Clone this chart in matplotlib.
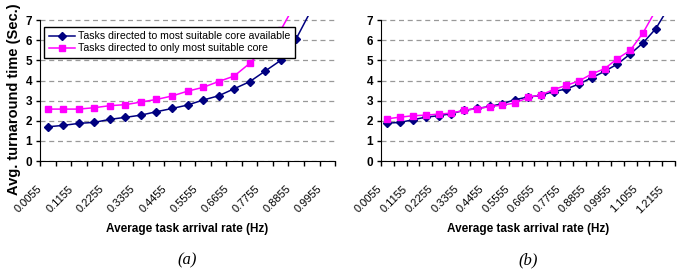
import numpy as np
import matplotlib
matplotlib.use("Agg")
import matplotlib.pyplot as plt
from matplotlib.transforms import ScaledTranslation

plt.rcParams['font.family'] = ['Liberation Sans', 'DejaVu Sans']

# arrival rate categories (Hz)
rates = ["0.0055", "0.0605", "0.1155", "0.1705", "0.2255", "0.2805", "0.3355",
         "0.3905", "0.4455", "0.5005", "0.5555", "0.6105", "0.6655", "0.7205",
         "0.7755", "0.8305", "0.8855", "0.9405", "0.9955", "1.0505", "1.1055",
         "1.1605", "1.2155"]

# (a) turnaround time (sec)
avail_a = [1.70, 1.77, 1.87, 1.92, 2.07, 2.17, 2.28, 2.45, 2.61, 2.78, 3.03,
           3.24, 3.59, 3.94, 4.47, 5.00, 6.08, 7.55, 9.0]
only_a = [2.58, 2.58, 2.58, 2.65, 2.75, 2.80, 2.93, 3.06, 3.23, 3.47, 3.66,
          3.95, 4.22, 4.85, 5.65, 6.50, 7.90, 9.5, 11.0]

# (b) turnaround time (sec)
avail_b = [1.88, 1.92, 2.05, 2.18, 2.25, 2.35, 2.52, 2.61, 2.71, 2.85, 3.05,
           3.18, 3.26, 3.45, 3.58, 3.83, 4.14, 4.46, 4.82, 5.32, 5.87, 6.58, 7.63]
only_b = [2.10, 2.18, 2.25, 2.28, 2.33, 2.38, 2.52, 2.60, 2.70, 2.78, 2.88,
          3.16, 3.28, 3.55, 3.76, 3.98, 4.33, 4.59, 5.09, 5.50, 6.37, 7.5, 8.8]

label_avail = "Tasks directed to most suitable core available"
label_only = "Tasks directed to only most suitable core"

BLUE = "#000080"
PINK = "#FF00FF"

fig = plt.figure(figsize=(6.85, 2.7), dpi=100)
ax_a = fig.add_axes([0.0584, 0.4037, 0.4307, 0.5365])
ax_b = fig.add_axes([0.5562, 0.4037, 0.4292, 0.5365])


def draw(ax, avail, only, caption, show_legend):
    n = len(avail)
    x = np.arange(n)
    ax.plot(x, avail, color=BLUE, marker='D', markersize=4.2, linewidth=1.1,
            label=label_avail, zorder=3)
    ax.plot(x, only, color=PINK, marker='s', markersize=5, linewidth=1.1,
            label=label_only, zorder=3)
    ax.set_xlim(-0.5, n - 0.5)
    ax.set_ylim(0, 7.2)
    for side in ['top', 'right']:
        ax.spines[side].set_visible(False)
    ax.spines['left'].set_bounds(0, 7)
    ax.set_yticks(range(8))
    ax.set_yticklabels([str(v) for v in range(8)], fontsize=8.5, fontweight='bold')
    ax.tick_params(axis='y', direction='out', length=3, width=1, pad=2.5)
    ax.yaxis.grid(True, color='#999999', linestyle=(0, (4, 3)), linewidth=0.9)
    ax.set_axisbelow(True)

    # tick marks between categories, labels on every second category
    ax.set_xticks(np.arange(n + 1) - 0.5)
    ax.set_xticklabels([])
    ax.tick_params(axis='x', which='major', direction='out', length=3.5, width=1)
    ax.set_xticks(x[::2], minor=True)
    ax.set_xticklabels(rates[:n:2], minor=True, rotation=45, ha='right',
                       va='center', rotation_mode='anchor', fontsize=8)
    ax.tick_params(axis='x', which='minor', length=0, pad=19)
    shift = ScaledTranslation(-7 / 100, 0, fig.dpi_scale_trans)
    for lbl in ax.get_xticklabels(minor=True):
        lbl.set_transform(lbl.get_transform() + shift)

    ax.set_xlabel("Average task arrival rate (Hz)", fontsize=8.5, fontweight='bold',
                  labelpad=6)
    if show_legend:
        leg = ax.legend(loc='upper left', bbox_to_anchor=(0.014, 0.928),
                        borderaxespad=0, fontsize=7.6, frameon=True, fancybox=False,
                        framealpha=1, edgecolor='black', handlelength=2.5,
                        handletextpad=0.3, labelspacing=0.2, borderpad=0.45)
        leg.get_frame().set_linewidth(1)
        leg.set_zorder(5)
    ax.text(0.5, -0.684, caption, transform=ax.transAxes, ha='center', va='center',
            fontsize=12, style='italic', family='Liberation Serif')


draw(ax_a, avail_a, only_a, "(a)", True)
draw(ax_b, avail_b, only_b, "(b)", False)

fig.text(14.5 / 685, 1 - 99 / 270, "Avg. turnaround time (Sec.)", rotation=90,
         ha='center', va='center', fontsize=10.5, fontweight='bold')

fig.savefig("out.png", dpi=100)
